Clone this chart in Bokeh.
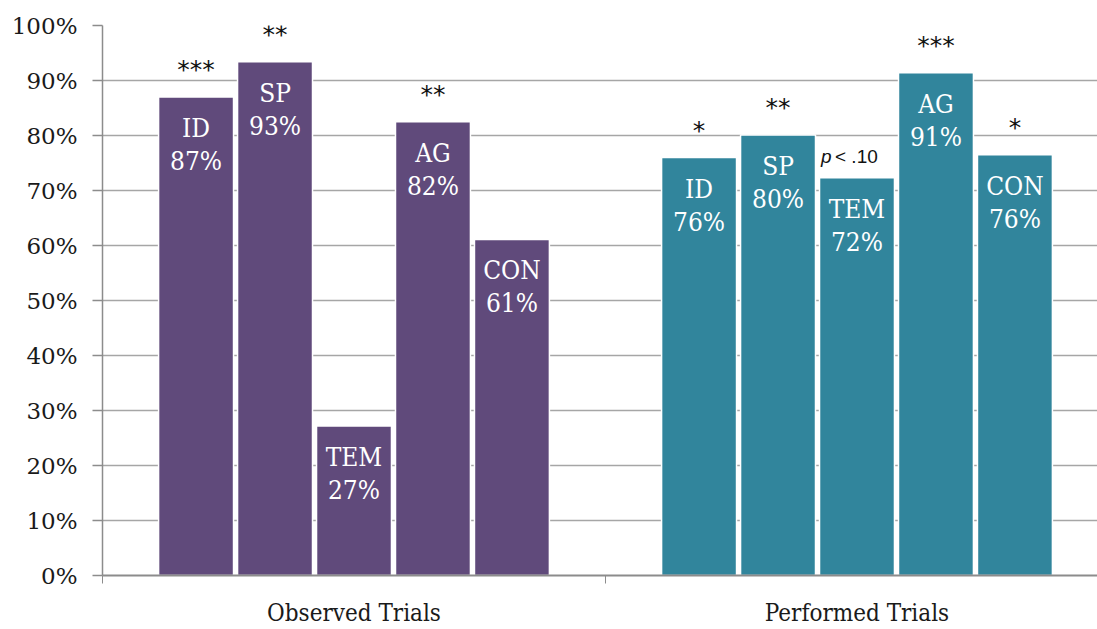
from bokeh.plotting import figure
from bokeh.models import ColumnDataSource, FixedTicker, LinearAxis, Range1d
from bokeh.core.properties import value
from bokeh.embed import file_html
from bokeh.resources import INLINE

groups = ["Observed Trials", "Performed Trials"]
measures = ["ID", "SP", "TEM", "AG", "CON"]
observed = [87.0, 93.4, 27.2, 82.5, 61.1]
performed = [76.0, 80.1, 72.3, 91.4, 76.5]
observed_sig = ["***", "**", "", "**", ""]
performed_sig = ["*", "**", "", "***", "*"]
trend_note = ["", "", "p", "", ""]
yticks = [0, 10, 20, 30, 40, 50, 60, 70, 80, 90, 100]
colors = ["#604A7B", "#31859C"]

step = 0.157
bw = 0.149

xs, tops, labels, fills, sigs, trend = [], [], [], [], [], []
for gi, (vals, sg) in enumerate([(observed, observed_sig), (performed, performed_sig)]):
    for i, m in enumerate(measures):
        xs.append(gi + 0.5 + (i - 2) * step)
        tops.append(vals[i])
        labels.append(f"{m}\n{round(vals[i])}%")
        fills.append(colors[gi])
        sigs.append(sg[i])
        trend.append(trend_note[i] if gi == 1 else "")

src = ColumnDataSource(dict(x=xs, top=tops, label=labels, fill=fills, sig=sigs))

p = figure(width=1097, height=629, output_backend="svg", toolbar_location=None,
           x_range=Range1d(0, (1097 - 102) / 503), y_range=Range1d(0, 100),
           min_border_left=102, min_border_right=0, min_border_top=25, min_border_bottom=53,
           x_axis_location=None, y_axis_location=None)
p.outline_line_color = None
p.xgrid.visible = False

yaxis = LinearAxis(ticker=FixedTicker(ticks=yticks),
                   major_label_overrides={t: f"{t}%" for t in yticks})
yaxis.axis_line_color = "#8c8c8c"
yaxis.axis_line_width = 1.5
yaxis.major_tick_line_color = "#8c8c8c"
yaxis.major_tick_line_width = 1.5
yaxis.major_tick_out = 10
yaxis.major_tick_in = 0
yaxis.minor_tick_line_color = None
yaxis.major_label_standoff = 15
yaxis.major_label_text_font = "DejaVu Serif"
yaxis.major_label_text_font_size = "23px"
yaxis.major_label_text_color = "#1a1a1a"
p.add_layout(yaxis, "left")
p.ygrid.ticker = FixedTicker(ticks=yticks)
p.ygrid.grid_line_color = "#a6a6a6"
p.ygrid.grid_line_width = 1.5

xaxis = LinearAxis(ticker=FixedTicker(ticks=[0, 1, 2]),
                   major_label_overrides={0: "", 1: "", 2: ""})
xaxis.axis_line_color = "#8c8c8c"
xaxis.axis_line_width = 2
xaxis.major_tick_line_color = "#8c8c8c"
xaxis.major_tick_out = 8
xaxis.major_tick_in = 0
xaxis.minor_tick_line_color = None
xaxis.major_label_text_font_size = "1px"
xaxis.major_label_standoff = 0
p.add_layout(xaxis, "below")

xaxis2 = LinearAxis(ticker=FixedTicker(ticks=[0.5, 1.5]),
                    major_label_overrides={0.5: groups[0], 1.5: groups[1]})
xaxis2.axis_line_color = None
xaxis2.major_tick_line_color = None
xaxis2.minor_tick_line_color = None
xaxis2.major_label_standoff = 9
xaxis2.major_label_text_font = "DejaVu Serif Condensed"
xaxis2.major_label_text_font_size = "24px"
xaxis2.major_label_text_color = "#1a1a1a"
p.add_layout(xaxis2, "below")

p.vbar(x="x", top="top", bottom=0, width=bw, fill_color="fill", line_color="white",
       line_width=1.5, source=src)

p.text(x="x", y="top", text="label", source=src, text_align="center", text_baseline="top",
       y_offset=16, text_color="white", text_font=value("DejaVu Serif Condensed"),
       text_font_size="26px", text_line_height=1.1)

p.text(x="x", y="top", text="sig", source=src, text_align="center", text_baseline="bottom",
       y_offset=-13, text_color="#111111", text_font=value("DejaVu Sans"),
       text_font_size="25px")

tx = [x for x, t in zip(xs, trend) if t]
ty = [v for v, t in zip(tops, trend) if t]
p.text(x=tx, y=ty, text=["p"], text_align="left", text_baseline="bottom", x_offset=-36,
       y_offset=-11, text_color="#111111", text_font=value("Liberation Sans"),
       text_font_size="19px", text_font_style="italic")
p.text(x=tx, y=ty, text=["< .10"], text_align="left", text_baseline="bottom", x_offset=-22,
       y_offset=-11, text_color="#111111", text_font=value("Liberation Sans"),
       text_font_size="19px")

open("out.html", "w").write(file_html(p, INLINE))
